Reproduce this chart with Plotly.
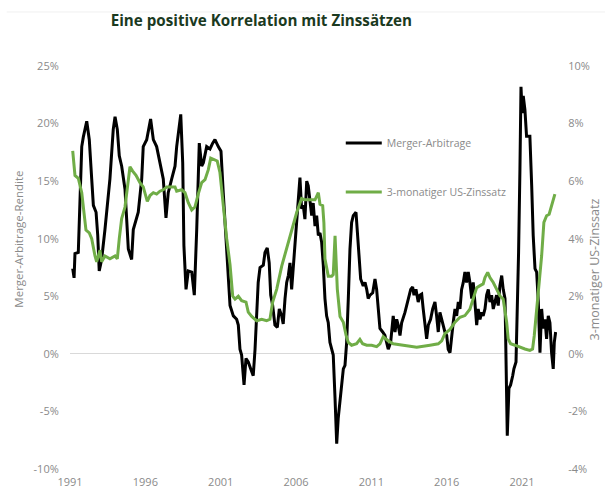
import plotly.graph_objects as go

# ---- Data (decimal years, percent) ----
merger_years = [1991.18, 1991.27, 1991.33, 1991.55, 1991.78, 1991.88, 1992.11, 1992.28, 1992.44, 1992.55,
                1992.73, 1992.84, 1992.94, 1993.10, 1993.32, 1993.44, 1993.65, 1993.87, 1993.99, 1994.14,
                1994.27, 1994.43, 1994.65, 1994.76, 1994.87, 1995.09, 1995.20, 1995.53, 1995.76, 1995.86,
                1996.09, 1996.35, 1996.53, 1996.75, 1996.97, 1997.19, 1997.37, 1997.52, 1997.75, 1997.97,
                1998.08, 1998.35, 1998.48, 1998.56, 1998.70, 1998.85, 1999.08, 1999.25, 1999.41, 1999.58,
                1999.74, 1999.85, 2000.07, 2000.29, 2000.47, 2000.62, 2000.84, 2001.02, 2001.17, 2001.40,
                2001.62, 2001.84, 2002.06, 2002.17, 2002.28, 2002.39, 2002.55, 2002.68, 2002.83, 2002.99,
                2003.16, 2003.28, 2003.39, 2003.49, 2003.61, 2003.83, 2003.94, 2004.09, 2004.22, 2004.32,
                2004.45, 2004.60, 2004.76, 2004.89, 2005.05, 2005.15, 2005.27, 2005.38, 2005.49, 2005.60,
                2005.71, 2005.82, 2005.93, 2006.04, 2006.15, 2006.26, 2006.37, 2006.48, 2006.59, 2006.71,
                2006.81, 2006.93, 2007.04, 2007.14, 2007.26, 2007.37, 2007.48, 2007.59, 2007.70, 2007.81,
                2007.92, 2008.03, 2008.14, 2008.25, 2008.37, 2008.47, 2008.59, 2008.70, 2008.80, 2008.92,
                2009.03, 2009.14, 2009.25, 2009.36, 2009.47, 2009.58, 2009.69, 2009.80, 2009.98, 2010.09,
                2010.20, 2010.29, 2010.46, 2010.58, 2010.69, 2010.79, 2010.91, 2011.09, 2011.24, 2011.35,
                2011.46, 2011.57, 2011.75, 2011.90, 2012.12, 2012.28, 2012.45, 2012.57, 2012.68, 2012.78,
                2012.90, 2013.01, 2013.23, 2013.34, 2013.45, 2013.61, 2013.74, 2013.83, 2013.96, 2014.11,
                2014.22, 2014.34, 2014.44, 2014.56, 2014.67, 2014.78, 2014.93, 2015.07, 2015.22, 2015.33,
                2015.44, 2015.55, 2015.67, 2015.77, 2015.88, 2016.00, 2016.10, 2016.22, 2016.33, 2016.43,
                2016.55, 2016.66, 2016.77, 2016.88, 2016.99, 2017.10, 2017.21, 2017.32, 2017.43, 2017.54,
                2017.66, 2017.76, 2017.87, 2017.99, 2018.09, 2018.21, 2018.32, 2018.42, 2018.54, 2018.65,
                2018.76, 2018.87, 2018.98, 2019.09, 2019.20, 2019.31, 2019.42, 2019.53, 2019.65, 2019.75,
                2019.87, 2019.93, 2020.02, 2020.13, 2020.24, 2020.38, 2020.46, 2020.60, 2020.68, 2020.77,
                2020.86, 2020.93, 2021.01, 2021.08, 2021.19, 2021.30, 2021.41, 2021.52, 2021.64, 2021.74,
                2021.86, 2021.97, 2022.08, 2022.19, 2022.30, 2022.41, 2022.52, 2022.63, 2022.74, 2022.85,
                2022.96, 2023.07, 2023.14, 2023.23]
merger_returns = [7.4, 6.6, 8.7, 8.8, 18.0, 18.8, 20.2, 18.6, 15.2, 12.9,
                  12.3, 10.3, 7.2, 8.2, 10.8, 12.6, 15.2, 19.5, 20.6, 19.5,
                  17.2, 16.3, 14.3, 11.7, 9.1, 8.2, 10.8, 12.3, 15.2, 18.0,
                  18.6, 20.4, 18.6, 18.0, 16.6, 15.2, 11.8, 14.0, 15.2, 16.3,
                  18.0, 20.8, 16.6, 9.4, 5.6, 7.2, 7.1, 5.1, 10.8, 18.3,
                  16.3, 16.6, 18.0, 17.8, 18.3, 18.6, 18.0, 17.6, 14.0, 9.2,
                  4.2, 3.3, 3.0, 2.5, 0.4, -0.1, -2.7, -0.4, -0.7, -1.3,
                  -1.9, 0.4, 3.3, 6.2, 7.5, 7.7, 8.8, 9.2, 7.9, 5.1,
                  4.2, 2.5, 2.3, 3.9, 3.3, 2.6, 4.8, 6.2, 6.8, 7.9,
                  5.6, 7.7, 9.7, 12.0, 13.7, 15.3, 12.6, 12.9, 11.7, 15.0,
                  14.6, 13.4, 12.0, 13.1, 11.1, 12.0, 10.3, 10.5, 9.7, 7.7,
                  4.8, 3.3, 2.7, 1.0, 0.4, -0.1, -3.9, -7.8, -5.6, -4.2,
                  -2.5, -1.3, -1.0, 1.0, 4.8, 9.1, 11.4, 12.0, 12.3, 10.5,
                  8.2, 6.5, 5.9, 6.2, 5.6, 4.8, 5.1, 5.3, 6.5, 5.6,
                  3.9, 2.2, 1.9, 1.6, 0.4, 1.0, 3.3, 1.9, 3.0, 2.5,
                  1.6, 2.7, 3.6, 4.2, 4.8, 5.6, 5.8, 5.1, 5.6, 4.5,
                  5.1, 5.2, 3.9, 2.7, 1.3, 2.5, 3.0, 3.9, 4.5, 3.3,
                  1.9, 3.6, 3.0, 2.7, 1.9, 1.6, 0.4, 0.1, 1.6, 2.7,
                  3.9, 3.3, 4.5, 3.9, 5.6, 6.2, 7.1, 6.2, 7.1, 6.2,
                  4.8, 6.2, 4.5, 2.5, 3.9, 3.0, 3.6, 3.3, 3.9, 5.1,
                  5.6, 4.5, 5.1, 3.9, 4.5, 5.1, 4.2, 5.9, 6.8, 5.6,
                  4.8, 0.1, -7.1, -3.0, -2.7, -1.9, -1.3, -0.7, 3.0, 8.8,
                  16.0, 23.2, 20.9, 22.4, 21.2, 18.9, 18.9, 18.9, 14.6, 10.3,
                  7.4, 7.1, 4.5, 0.1, 3.9, 2.2, 3.0, 1.3, 3.3, 2.7,
                  0.1, -1.3, 1.0, 1.9]

rate_years = [1991.18, 1991.33, 1991.55, 1991.78, 1991.93, 1992.06, 1992.28, 1992.44, 1992.66, 1992.77,
              1992.99, 1993.10, 1993.32, 1993.65, 1993.99, 1994.14, 1994.27, 1994.43, 1994.65, 1994.83,
              1994.98, 1995.16, 1995.38, 1995.64, 1995.86, 1996.13, 1996.31, 1996.53, 1996.75, 1996.97,
              1997.19, 1997.42, 1997.75, 1997.97, 1998.08, 1998.41, 1998.63, 1998.85, 1999.08, 1999.29,
              1999.51, 1999.74, 1999.96, 2000.18, 2000.34, 2000.56, 2000.77, 2000.95, 2001.17, 2001.40,
              2001.62, 2001.80, 2001.95, 2002.17, 2002.39, 2002.68, 2002.83, 2003.06, 2003.39, 2003.72,
              2004.05, 2004.27, 2004.45, 2004.72, 2005.05, 2005.38, 2005.71, 2006.04, 2006.37, 2006.59,
              2006.93, 2007.26, 2007.48, 2007.59, 2007.77, 2007.85, 2007.92, 2008.03, 2008.14, 2008.37,
              2008.47, 2008.59, 2008.65, 2008.74, 2008.92, 2009.14, 2009.32, 2009.47, 2009.69, 2010.02,
              2010.24, 2010.42, 2010.69, 2011.02, 2011.35, 2011.57, 2011.79, 2012.12, 2012.45, 2013.12,
              2014.01, 2014.89, 2015.44, 2015.67, 2015.88, 2016.22, 2016.55, 2016.88, 2017.21, 2017.54,
              2017.76, 2017.99, 2018.21, 2018.42, 2018.54, 2018.72, 2018.87, 2019.09, 2019.31, 2019.53,
              2019.75, 2019.87, 2019.98, 2020.08, 2020.24, 2020.53, 2020.86, 2021.19, 2021.52, 2021.70,
              2021.81, 2021.97, 2022.14, 2022.30, 2022.45, 2022.63, 2022.80, 2022.96, 2023.07, 2023.18]
rate_values = [7.05, 6.2, 6.1, 5.6, 4.9, 4.3, 4.2, 4.0, 3.4, 3.2,
               3.6, 3.2, 3.4, 3.3, 3.4, 3.3, 4.0, 4.7, 5.1, 5.95,
               6.5, 6.35, 6.2, 5.95, 5.8, 5.3, 5.5, 5.6, 5.55, 5.65,
               5.7, 5.8, 5.8, 5.8, 5.65, 5.7, 5.6, 5.25, 5.0, 5.1,
               5.55, 5.95, 6.05, 6.4, 6.8, 6.75, 6.7, 6.3, 5.1, 4.0,
               3.1, 2.0, 1.9, 2.0, 1.85, 1.8, 1.45, 1.3, 1.15, 1.2,
               1.15, 1.2, 1.8, 2.25, 3.05, 3.65, 4.3, 4.9, 5.4, 5.35,
               5.35, 5.35, 5.6, 5.2, 5.15, 4.55, 3.3, 2.95, 2.7, 2.7,
               2.75, 4.1, 3.3, 2.25, 1.3, 1.1, 0.65, 0.4, 0.3, 0.35,
               0.5, 0.35, 0.3, 0.3, 0.25, 0.35, 0.6, 0.45, 0.35, 0.3,
               0.23, 0.3, 0.35, 0.45, 0.7, 0.85, 1.1, 1.27, 1.33, 1.55,
               1.9, 2.3, 2.37, 2.43, 2.65, 2.83, 2.65, 2.48, 2.25, 2.02,
               1.9, 1.55, 1.1, 0.52, 0.35, 0.3, 0.23, 0.17, 0.12, 0.17,
               0.63, 1.55, 2.37, 3.4, 4.57, 4.8, 4.85, 5.14, 5.31, 5.55]

year_ticks = [1991, 1996, 2001, 2006, 2011, 2016, 2021]
left_ticks = [-10, -5, 0, 5, 10, 15, 20, 25]
right_ticks = [-4, -2, 0, 2, 4, 6, 8, 10]

series_names = ["Merger-Arbitrage", "3-monatiger US-Zinssatz"]
title_text = "Eine positive Korrelation mit Zinssätzen"
left_title = "Merger-Arbitrage-Rendite"
right_title = "3-monatiger US-Zinssatz"

FONT = "Open Sans"
GRAY = "#8a8a8a"

fig = go.Figure()
fig.add_trace(go.Scatter(x=merger_years, y=merger_returns, mode="lines", name=series_names[0],
                         line=dict(color="#000000", width=3), legendgroup="a", yaxis="y"))
fig.add_trace(go.Scatter(x=rate_years, y=rate_values, mode="lines", name=series_names[1],
                         line=dict(color="#70AD47", width=3), legendgroup="b", yaxis="y2"))

fig.update_layout(
    width=605, height=493,
    margin=dict(l=70, r=48, t=66, b=24),
    paper_bgcolor="white", plot_bgcolor="white",
    font=dict(family=FONT, color=GRAY, size=11),
    title=dict(text=title_text, x=0.432, xanchor="center", y=0.958, yanchor="middle",
               font=dict(family=FONT, size=15.2, color="#1b3a1f", weight="bold")),
    xaxis=dict(range=[1991.0, 2023.32], tickmode="array", tickvals=year_ticks,
               ticktext=[str(v) for v in year_ticks], showgrid=False, zeroline=False,
               showline=False, ticks="outside", ticklen=3, tickcolor="rgba(0,0,0,0)",
               tickfont=dict(size=11, color=GRAY), automargin=False),
    yaxis=dict(range=[-10, 25], tickmode="array", tickvals=left_ticks,
               ticktext=[f"{v}%" for v in left_ticks], showgrid=False, zeroline=True,
               zerolinecolor="#d9d9d9", zerolinewidth=1, showline=False,
               ticks="outside", ticklen=8, tickcolor="rgba(0,0,0,0)",
               tickfont=dict(size=11, color=GRAY), automargin=False),
    yaxis2=dict(range=[-4, 10], overlaying="y", side="right", tickmode="array", tickvals=right_ticks,
                ticktext=[f"{v}%" for v in right_ticks], showgrid=False, zeroline=False,
                showline=False, ticks="outside", ticklen=8, tickcolor="rgba(0,0,0,0)",
                tickfont=dict(size=11, color=GRAY), automargin=False),
    legend=dict(x=0.556, y=0.845, xanchor="left", yanchor="top", bgcolor="rgba(0,0,0,0)",
                font=dict(size=10.5, color=GRAY), tracegroupgap=30, itemwidth=36),
    showlegend=True,
)

fig.add_annotation(text=left_title, xref="paper", yref="paper", x=-0.106, y=0.57,
                   textangle=-90, showarrow=False, font=dict(size=11.5, color=GRAY),
                   xanchor="center", yanchor="middle")
fig.add_annotation(text=right_title, xref="paper", yref="paper", x=1.078, y=0.495,
                   textangle=-90, showarrow=False, font=dict(size=12.5, color=GRAY),
                   xanchor="center", yanchor="middle")
fig.add_shape(type="line", xref="paper", yref="paper", x0=-0.13, x1=1.1, y0=1.134, y1=1.134,
              line=dict(color="#f0f0f0", width=1))

fig.write_html("out.html", config={"displayModeBar": False},
               post_script="document.body.style.margin='0';")
